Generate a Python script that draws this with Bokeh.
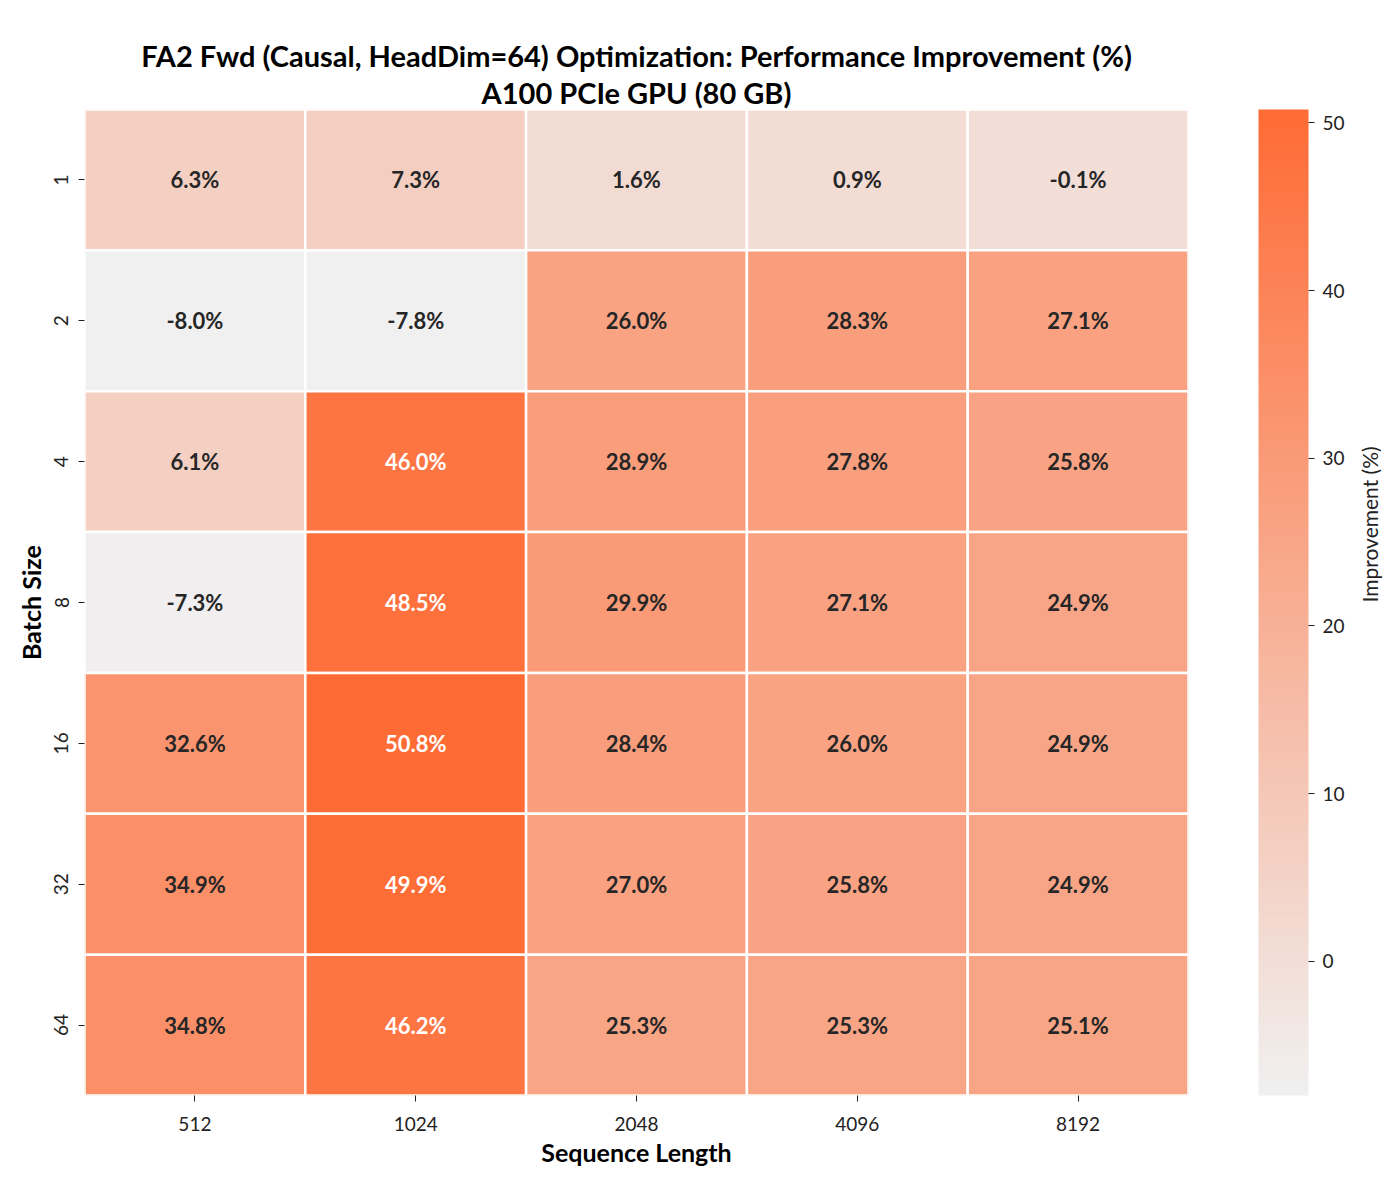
import math
from bokeh.plotting import figure
from bokeh.models import (ColumnDataSource, LinearColorMapper, ColorBar, FixedTicker,
                          Title, CategoricalAxis)
from bokeh.core.properties import value
from bokeh.embed import file_html
from bokeh.resources import INLINE

seq_lengths = ["512", "1024", "2048", "4096", "8192"]
batch_sizes = ["1", "2", "4", "8", "16", "32", "64"]
improvement = [
    [6.3, 7.3, 1.6, 0.9, -0.1],
    [-8.0, -7.8, 26.0, 28.3, 27.1],
    [6.1, 46.0, 28.9, 27.8, 25.8],
    [-7.3, 48.5, 29.9, 27.1, 24.9],
    [32.6, 50.8, 28.4, 26.0, 24.9],
    [34.9, 49.9, 27.0, 25.8, 24.9],
    [34.8, 46.2, 25.3, 25.3, 25.1],
]
cbar_ticks = [0, 10, 20, 30, 40, 50]

FONT = "Lato"
lo_rgb = (240, 240, 240)
hi_rgb = (255, 107, 53)
N = 256
palette = []
for i in range(N):
    t = i / (N - 1)
    r = round(lo_rgb[0] + (hi_rgb[0] - lo_rgb[0]) * t)
    g = round(lo_rgb[1] + (hi_rgb[1] - lo_rgb[1]) * t)
    b = round(lo_rgb[2] + (hi_rgb[2] - lo_rgb[2]) * t)
    palette.append("#%02x%02x%02x" % (r, g, b))

flat = [v for row in improvement for v in row]
vmin, vmax = min(flat), max(flat)


def lin(c):
    c = c / 255
    return c / 12.92 if c <= 0.04045 else ((c + 0.055) / 1.055) ** 2.4


xs, ys, vals, labels, tcolors = [], [], [], [], []
for bi, b in enumerate(batch_sizes):
    for si, s in enumerate(seq_lengths):
        v = improvement[bi][si]
        xs.append(s)
        ys.append(b)
        vals.append(v)
        labels.append("%.1f%%" % v)
        t = (v - vmin) / (vmax - vmin)
        rgb = [lo_rgb[k] + (hi_rgb[k] - lo_rgb[k]) * t for k in range(3)]
        lum = 0.2126 * lin(rgb[0]) + 0.7152 * lin(rgb[1]) + 0.0722 * lin(rgb[2])
        tcolors.append("white" if lum < 0.408 else "#262626")

src = ColumnDataSource(dict(x=xs, y=ys, v=vals, label=labels, tc=tcolors))
mapper = LinearColorMapper(palette=palette, low=vmin, high=vmax)

FW, FH = 1104, 986
p = figure(x_range=seq_lengths, y_range=list(reversed(batch_sizes)),
           frame_width=FW, frame_height=FH,
           min_border_left=84, min_border_right=190, min_border_bottom=70, min_border_top=109,
           output_backend="svg", toolbar_location=None, tools="")

p.rect(x="x", y="y", width=1, height=1, source=src,
       fill_color={"field": "v", "transform": mapper},
       line_color="white", line_width=2.5)
p.text(x="x", y="y", text="label", source=src, text_color="tc",
       text_align="center", text_baseline="middle",
       text_font=value(FONT), text_font_style="bold", text_font_size="22px")

p.outline_line_color = None
p.grid.grid_line_color = None
for ax in (p.xaxis, p.yaxis):
    ax.axis_line_color = None
    ax.minor_tick_line_color = None
    ax.major_tick_out = 6
    ax.major_tick_in = 0
    ax.major_tick_line_color = "#222222"
    ax.major_label_text_font = FONT
    ax.major_label_text_font_size = "19px"
    ax.major_label_text_color = "#222222"
    ax.axis_label_text_font = FONT
    ax.axis_label_text_font_size = "25px"
    ax.axis_label_text_font_style = "bold"
    ax.axis_label_text_color = "black"
p.xaxis.axis_label = "Sequence Length"
p.yaxis.axis_label = "Batch Size"
p.yaxis.major_label_orientation = "vertical"
p.xaxis.major_label_standoff = 15
p.yaxis.major_label_standoff = 10
p.xaxis.axis_label_standoff = 3
p.yaxis.axis_label_standoff = 6

cb = ColorBar(color_mapper=mapper, ticker=FixedTicker(ticks=cbar_ticks),
              width=50, height=FH, padding=0, location=(70, 0),
              major_tick_in=0, major_tick_out=6, major_tick_line_color="#222222",
              minor_tick_line_color=None, bar_line_color=None,
              major_label_text_font=FONT, major_label_text_font_size="19px",
              major_label_text_color="#222222", label_standoff=8,
              background_fill_color=None, border_line_color=None)
p.add_layout(cb, "right")

cax = CategoricalAxis(axis_label="Improvement (%)", ticker=FixedTicker(ticks=[]),
                      axis_line_color=None, bounds=(0, 5.92),
                      major_tick_line_color=None, minor_tick_line_color=None,
                      major_label_standoff=0,
                      axis_label_standoff=22, axis_label_text_font=FONT,
                      axis_label_text_font_size="21px", axis_label_text_color="#222222",
                      axis_label_text_font_style="normal")
if "axis_label_orientation" in CategoricalAxis.properties():
    cax.axis_label_orientation = math.pi / 2
p.add_layout(cax, "right")

spacer = CategoricalAxis(ticker=FixedTicker(ticks=[]), axis_line_color=None,
                         major_tick_out=33, major_tick_in=0, major_label_standoff=0,
                         major_tick_line_color="white", minor_tick_line_color=None)
p.add_layout(spacer, "above")
p.add_layout(Title(text="A100 PCIe GPU (80 GB)", align="center", text_font=FONT,
                   text_font_size="29px", text_font_style="bold", text_color="black",
                   standoff=0), "above")
p.add_layout(Title(text="FA2 Fwd (Causal, HeadDim=64) Optimization: Performance Improvement (%)",
                   align="center", text_font=FONT, text_font_size="29px",
                   text_font_style="bold", text_color="black", standoff=0), "above")

open("out.html", "w").write(file_html(p, INLINE))
